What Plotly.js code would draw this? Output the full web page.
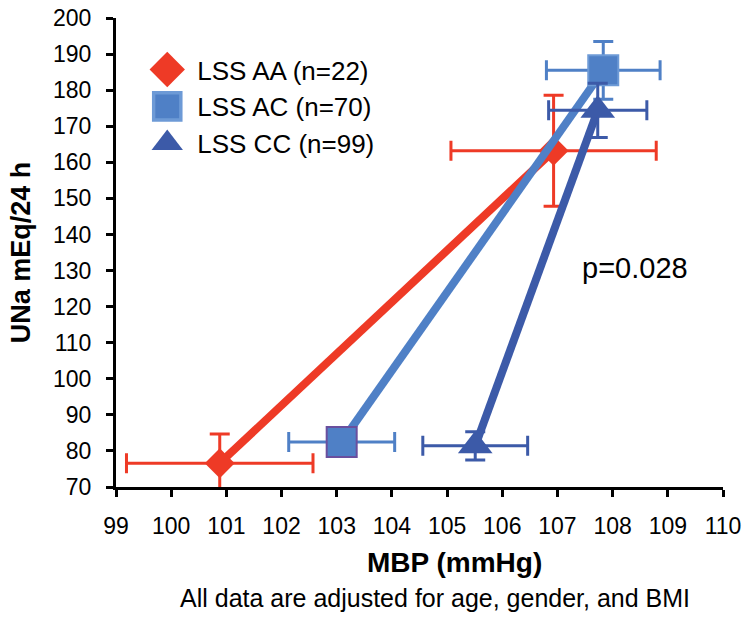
<!DOCTYPE html>
<html>
<head>
<meta charset="utf-8">
<script src="https://cdn.plot.ly/plotly-3.0.1.min.js"></script>
<style>
  body { margin: 0; background: #fff; }
  #chart { width: 754px; height: 621px; }
</style>
</head>
<body>
<div id="chart"></div>
<script>
const FONT = 'Arial, "Liberation Sans", Helvetica, sans-serif';

// genotype groups
const groups = ['LSS AA (n=22)', 'LSS AC (n=70)', 'LSS CC (n=99)'];

// MBP (mmHg) for the high / low UNa point of each group
const mbpAA = [106.93, 100.88];
const mbpAC = [107.83, 103.09];
const mbpCC = [107.73, 105.51];

// UNa mEq/24 h
const unaAA = [163.2, 76.6];
const unaAC = [185.5, 82.5];
const unaCC = [174.4, 81.4];

// error bars (+/-)
const errMbpAA = [1.86, 1.69];
const errMbpAC = [1.03, 0.96];
const errMbpCC = [0.89, 0.95];
const errUnaAA = [15.4, 8.1];
const errUnaAC = [8, 3];
const errUnaCC = [7.5, 3.9];

// axis ticks
const xTicks = [99, 100, 101, 102, 103, 104, 105, 106, 107, 108, 109, 110];
const yTicks = [70, 80, 90, 100, 110, 120, 130, 140, 150, 160, 170, 180, 190, 200];

const RED = '#ee3a26';
const LIGHT_BLUE = '#4f80c6';
const DARK_BLUE = '#3c5aa8';

function groupTraces(name, x, y, ex, ey, color, symbol, size, markerLine) {
    // thick connecting line, no legend entry
    const line = {
        x: x, y: y,
        mode: 'lines',
        line: { color: color, width: 8 },
        showlegend: false,
        hoverinfo: 'skip'
    };
    const pts = {
        x: x, y: y,
        mode: 'markers',
        name: name,
        marker: { symbol: symbol, size: size, color: color, line: markerLine || { width: 0 } },
        error_x: { type: 'data', array: ex, color: color, thickness: 3, width: 10 },
        error_y: { type: 'data', array: ey, color: color, thickness: 3, width: 10 }
    };
    return [line, pts];
}

const traces = [
    ...groupTraces(groups[0], mbpAA, unaAA, errMbpAA, errUnaAA, RED, 'diamond', 23),
    ...groupTraces(groups[1], mbpAC, unaAC, errMbpAC, errUnaAC, LIGHT_BLUE, 'square', 30,
        { color: ['#6d9ad6', '#6a4f9e'], width: 2 }),
    ...groupTraces(groups[2], mbpCC, unaCC, errMbpCC, errUnaCC, DARK_BLUE, 'triangle-up', 30)
];

const axisCommon = {
    showgrid: false,
    zeroline: false,
    showline: true,
    linecolor: '#000',
    linewidth: 3,
    ticks: 'outside',
    ticklen: 7,
    tickwidth: 3,
    tickcolor: '#000',
    tickfont: { family: FONT, size: 23, color: '#000' }
};

const layout = {
    width: 754,
    height: 621,
    paper_bgcolor: '#fff',
    plot_bgcolor: '#fff',
    font: { family: FONT, color: '#000' },
    margin: { l: 116, r: 31, t: 18, b: 134 },
    xaxis: Object.assign({}, axisCommon, {
        range: [99, 110],
        tickvals: xTicks,
        ticklabelstandoff: 9
    }),
    yaxis: Object.assign({}, axisCommon, {
        range: [70, 200],
        tickvals: yTicks,
        ticklabelstandoff: 10
    }),
    showlegend: true,
    legend: {
        x: 0.035, y: 0.94,
        xanchor: 'left', yanchor: 'top',
        bgcolor: 'rgba(0,0,0,0)',
        itemwidth: 50,
        font: { family: FONT, size: 26, color: '#000' },
        tracegroupgap: 0
    },
    annotations: [
        {
            text: '<b>UNa mEq/24 h</b>', textangle: -90,
            xref: 'paper', yref: 'paper', x: -0.157, y: 0.5,
            xanchor: 'center', yanchor: 'middle', showarrow: false,
            font: { family: FONT, size: 27, color: '#000' }
        },
        {
            text: '<b>MBP (mmHg)</b>',
            xref: 'paper', yref: 'paper', x: 0.558, y: -0.16,
            xanchor: 'center', yanchor: 'middle', showarrow: false,
            font: { family: FONT, size: 28, color: '#000' }
        },
        {
            text: 'All data are adjusted for age, gender, and BMI',
            xref: 'paper', yref: 'paper', x: 0.526, y: -0.237,
            xanchor: 'center', yanchor: 'middle', showarrow: false,
            font: { family: FONT, size: 25, color: '#000' }
        },
        {
            text: 'p=0.028',
            xref: 'paper', yref: 'paper', x: 0.855, y: 0.467,
            xanchor: 'center', yanchor: 'middle', showarrow: false,
            font: { family: FONT, size: 29, color: '#000' }
        }
    ]
};

Plotly.newPlot('chart', traces, layout, { displayModeBar: false, staticPlot: true }).then(gd => {
    // legend symbols are capped at 16px; enlarge them to match the figure
    gd.querySelectorAll('.legend .legendpoints path.scatterpts').forEach(p => {
        const t = p.getAttribute('transform') || '';
        p.setAttribute('transform', t + ' scale(1.7)');
    });
});
</script>
</body>
</html>
